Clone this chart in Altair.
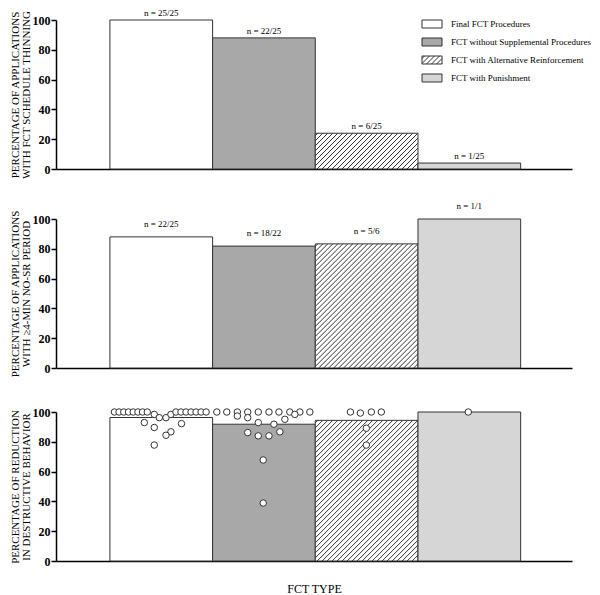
import altair as alt
import pandas as pd

FONT = "Liberation Serif"

categories = ["Final FCT Procedures", "FCT without Supplemental Procedures",
              "FCT with Alternative Reinforcement", "FCT with Punishment"]
cat_index = [1, 2, 3, 4]
cat_fills = ["#ffffff", "#a8a8a8", "#ffffff", "#d6d6d6"]
hatched_cat = 3

thinning_pct = [100, 88, 24, 4]
thinning_n = ["n = 25/25", "n = 22/25", "n = 6/25", "n = 1/25"]
nosr_pct = [88, 81.8, 83.3, 100]
nosr_n = ["n = 22/25", "n = 18/22", "n = 5/6", "n = 1/1"]
reduction_pct = [96.3, 91.8, 94.4, 100]

# individual applications in the bottom panel: category, swarm offset, % reduction
app_cat = [1] * 25 + [2] * 22 + [3] * 6 + [4] * 1
app_offset = [-0.456, -0.411, -0.365, -0.319, -0.273, -0.227, -0.182, -0.136,
              -0.068, -0.019, 0.046, 0.094,
              0.143, 0.192, 0.241, 0.290, 0.339, 0.388, 0.437,
              -0.165, -0.068, 0.197, 0.094, 0.046, -0.068,
              -0.459, -0.362, -0.259, -0.158, -0.055, 0.049, 0.146, 0.252, 0.350, 0.447,
              -0.259, -0.158, 0.301, 0.204, -0.055, 0.097, -0.158, -0.055, 0.049, 0.155,
              -0.007, -0.007,
              -0.158, -0.061, 0.046, 0.143, -0.003, -0.003,
              -0.01]
app_reduction = [100] * 8 + [98.4, 96.2, 96.2, 98.4] + [100] * 7 + \
                [92.9, 89.6, 92.2, 86.7, 84.4, 77.8] + \
                [100] * 10 + [97.3, 96.2, 98.4, 95.1, 92.9, 91.8, 86.2, 84.0, 84.0, 86.7, 67.8, 38.9] + \
                [100, 99.3, 100, 100, 89.1, 77.8] + \
                [100]

W, H = 516, 149
X_MIN, X_MAX = -0.025, 5
PXU = W / (X_MAX - X_MIN)
HATCH_STEP = 5.0
INK = "#333333"

fill_scale = alt.Scale(domain=categories, range=cat_fills)


def xs():
    return alt.Scale(domain=[X_MIN, X_MAX], nice=False, zero=False)


def ys():
    return alt.Scale(domain=[0, 100], nice=False, zero=True)


def hatch_segments(idx, val):
    """Diagonal '/' hatch lines clipped to the bar (derived from the bar value)."""
    w = PXU
    h = val * H / 100.0
    rows = []
    c = -h + HATCH_STEP / 2
    while c < w:
        x0 = max(0.0, c)
        y0 = x0 - c
        x1 = min(w, c + h)
        y1 = x1 - c
        if x1 > x0:
            rows.append({"hx": idx - 0.5 + x0 / PXU, "hx2": idx - 0.5 + x1 / PXU,
                         "hy": y0 * 100 / H, "hy2": y1 * 100 / H})
        c += HATCH_STEP
    return pd.DataFrame(rows)


def swatch_hatch_path(step=0.5, hh=0.8):
    parts = ["M-1,-0.4H1V0.4H-1Z"]
    c = -hh + step / 2
    while c < 2:
        x0 = max(0.0, c)
        y0 = x0 - c
        x1 = min(2.0, c + hh)
        y1 = x1 - c
        if x1 > x0:
            parts.append(f"M{-1 + x0:.3f},{0.4 - y0:.3f}L{-1 + x1:.3f},{0.4 - y1:.3f}")
        c += step
    return "".join(parts)


RECT = "M-1,-0.4H1V0.4H-1Z"
swatch_shapes = [RECT, RECT, swatch_hatch_path(), RECT]


def yaxis(title_lines):
    return alt.Axis(values=[0, 20, 40, 60, 80, 100], title=title_lines, grid=False,
                    domainColor="black", domainWidth=1.5, tickColor="black", tickWidth=1.5,
                    tickSize=5, labelFont=FONT, labelFontSize=12, labelFontWeight="bold",
                    labelColor="black", labelPadding=1, titleFont=FONT, titleFontSize=11,
                    titleFontWeight="normal", titleColor="black", titlePadding=1,
                    titleLineHeight=11)


def xaxis():
    return alt.Axis(labels=False, ticks=False, grid=False, domainColor="black",
                    domainWidth=1.5, titleFont=FONT, titleFontSize=12,
                    titleFontWeight="normal", titleColor="black", titlePadding=22)


def panel(name, pct, labels, title_lines, legend=False, dots=False, x_title=None, label_dy=-13):
    df = pd.DataFrame({"cat": categories, "idx": cat_index, "pct": pct})
    if labels:
        df["label"] = labels

    def X(field):
        return alt.X(field, scale=xs(), axis=xaxis(), title=x_title)

    bars = alt.Chart(df).mark_rect(stroke=INK, strokeWidth=1).transform_calculate(
        x0="datum.idx - 0.5", x1="datum.idx + 0.5"
    ).encode(
        x=X("x0:Q"),
        x2="x1:Q",
        y=alt.Y("pct:Q", scale=ys(), axis=yaxis(title_lines)),
        y2=alt.datum(0),
        fill=alt.Fill("cat:N", scale=fill_scale, legend=None),
    )
    hatch = alt.Chart(hatch_segments(hatched_cat, pct[hatched_cat - 1])).mark_rule(
        color=INK, strokeWidth=1
    ).encode(
        x=X("hx:Q"), x2="hx2:Q",
        y=alt.Y("hy:Q", scale=ys(), axis=None), y2="hy2:Q",
    )
    layers = [bars, hatch]
    if labels:
        layers.append(alt.Chart(df).mark_text(font=FONT, fontSize=9, dy=label_dy, color="black").encode(
            x=X("idx:Q"),
            y=alt.Y("pct:Q", scale=ys(), axis=None),
            text="label:N",
        ))
    if dots:
        ddf = pd.DataFrame({"idx": app_cat, "off": app_offset, "val": app_reduction})
        layers.append(alt.Chart(ddf).mark_point(
            filled=True, fill="white", stroke=INK, strokeWidth=1, size=42, opacity=1
        ).transform_calculate(px="datum.idx + datum.off").encode(
            x=X("px:Q"),
            y=alt.Y("val:Q", scale=ys(), axis=None),
        ))
    if legend:
        ldf = pd.DataFrame({"cat": categories})
        ly = alt.Y("cat:N", scale=alt.Scale(domain=categories, range=[4, 58], padding=0), axis=None)
        layers.append(alt.Chart(ldf).mark_point(
            filled=True, size=400, stroke=INK, strokeWidth=1, opacity=1
        ).encode(
            x=alt.value(376), y=ly,
            fill=alt.Fill("cat:N", scale=fill_scale, legend=None),
            shape=alt.Shape("cat:N", scale=alt.Scale(domain=categories, range=swatch_shapes), legend=None),
        ))
        layers.append(alt.Chart(ldf).mark_text(
            font=FONT, fontSize=9, align="left", baseline="middle", color="black"
        ).encode(x=alt.value(395), y=ly, text="cat:N"))
    return alt.layer(*layers).properties(width=W, height=H, name=name).resolve_scale(y="independent")


top = panel("thinning", thinning_pct, thinning_n,
            ["PERCENTAGE OF APPLICATIONS", "WITH FCT  SCHEDULE THINNING"], legend=True, label_dy=-7)
mid = panel("nosr", nosr_pct, nosr_n,
            ["PERCENTAGE OF APPLICATIONS", "WITH \u22654-MIN NO-SR PERIOD"])
bot = panel("reduction", reduction_pct, None,
            ["PERCENTAGE OF REDUCTION", "IN DESTRUCTIVE BEHAVIOR"], dots=True, x_title="FCT TYPE")

upper = alt.vconcat(top, mid, spacing=50, bounds="flush").resolve_scale(
    x="independent", y="independent")
chart = alt.vconcat(upper, bot, spacing=28).resolve_scale(
    x="independent", y="independent"
).properties(
    padding={"left": 0, "top": 0, "right": 0, "bottom": 0},
    background="white",
).configure_view(stroke=None)

chart.save("out.html", embed_options={"renderer": "svg", "actions": False})
